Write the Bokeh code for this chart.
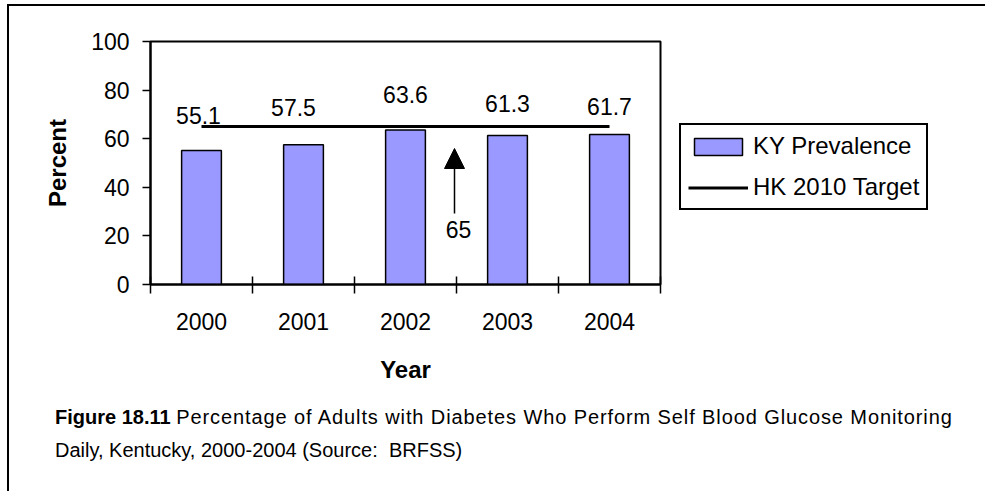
from bokeh.plotting import figure
from bokeh.models import FixedTicker, Label, Arrow, NormalHead, Div, Legend
from bokeh.layouts import column
from bokeh.core.properties import value
from bokeh.embed import file_html
from bokeh.resources import INLINE

# ---- data ----
years = ["2000", "2001", "2002", "2003", "2004"]
ky_prevalence = [55.1, 57.5, 63.6, 61.3, 61.7]
hk_target = 65
y_ticks = [0, 20, 40, 60, 80, 100]
series_names = ["KY Prevalence", "HK 2010 Target"]
caption_bold = "Figure 18.11"
caption_line1 = "Percentage of Adults with Diabetes Who Perform Self Blood Glucose Monitoring"
caption_line2 = "Daily, Kentucky, 2000-2004 (Source:&nbsp; BRFSS)"

# ---- style / layout ----
FONT = "Liberation Sans"
MARGIN_TOP, MARGIN_LEFT, BORDER = 4, 7, 2
ABS_X0, ABS_Y0 = MARGIN_LEFT + BORDER, MARGIN_TOP + BORDER   # canvas origin on page
FRAME_L, FRAME_T, FRAME_W, FRAME_H = 150 - ABS_X0, 41 - ABS_Y0, 510, 243
FIG_H = 396 - ABS_Y0
TOTAL_W = 985 - ABS_X0
label_dx = [-3, -10, 0, 0, 0]
label_dy = [-35, -37, -35, -32, -28]

n = len(years)
centers = [i + 0.5 for i in range(n)]
bounds = list(range(n + 1))

def dx(ax):
    return (ax - ABS_X0 - FRAME_L) / FRAME_W * n
def dy(ay):
    return (FRAME_T + FRAME_H - (ay - ABS_Y0)) / FRAME_H * 100

p = figure(frame_width=FRAME_W, frame_height=FRAME_H, x_range=(0, n), y_range=(0, 100),
           output_backend="svg", toolbar_location=None,
           min_border_left=FRAME_L, min_border_top=FRAME_T,
           min_border_right=0,
           min_border_bottom=FIG_H - FRAME_T - FRAME_H,
           background_fill_color="white", border_fill_color="white")

p.xgrid.visible = False
p.ygrid.visible = False
p.outline_line_color = "black"
p.outline_line_width = 2

bars = p.vbar(x=centers, top=ky_prevalence, width=0.39, fill_color="#9999FF",
              line_color="black", line_width=1.5)
target = p.line(x=[centers[0], centers[-1]], y=[hk_target, hk_target],
                line_color="black", line_width=3)

p.text(x=centers, y=ky_prevalence, text=[f"{v}" for v in ky_prevalence],
       x_offset=label_dx, y_offset=label_dy, text_align="center",
       text_baseline="middle", text_font=value(FONT), text_font_size="23px",
       text_color="black")

# arrow pointing to target
p.add_layout(Arrow(end=NormalHead(size=20, fill_color="black", line_color="black"),
                   x_start=dx(454), y_start=dy(213), x_end=dx(454), y_end=dy(148),
                   line_color="black", line_width=1.5))
p.add_layout(Label(x=dx(458), y=dy(229), text=f"{hk_target}", text_align="center",
                   text_baseline="middle", text_font=FONT, text_font_size="23px",
                   text_color="black"))

# axes
xa = p.xaxis[0]
xa.ticker = FixedTicker(ticks=centers, minor_ticks=bounds)
xa.major_label_overrides = {c: y for c, y in zip(centers, years)}
xa.major_tick_in = 0
xa.major_tick_out = 0
xa.minor_tick_in = 8
xa.minor_tick_out = 9
xa.minor_tick_line_color = "black"
xa.minor_tick_line_width = 1.5
xa.axis_line_width = 2
xa.major_label_standoff = 19
xa.major_label_text_font = FONT
xa.major_label_text_font_size = "23px"
xa.major_label_text_color = "black"
xa.axis_label = "Year"
xa.axis_label_text_font = FONT
xa.axis_label_text_font_style = "bold"
xa.axis_label_text_font_size = "24px"
xa.axis_label_text_color = "black"
xa.axis_label_standoff = 23

ya = p.yaxis[0]
ya.ticker = FixedTicker(ticks=y_ticks, minor_ticks=[])
ya.major_tick_in = 0
ya.major_tick_out = 8
ya.major_tick_line_width = 1.5
ya.axis_line_width = 2
ya.major_label_standoff = 13
ya.major_label_text_font = FONT
ya.major_label_text_font_size = "23px"
ya.major_label_text_color = "black"
ya.axis_label = "Percent"
ya.axis_label_text_font = FONT
ya.axis_label_text_font_style = "bold"
ya.axis_label_text_font_size = "24px"
ya.axis_label_text_color = "black"
ya.axis_label_standoff = 17

# legend in the right-hand panel
LEG_MARGIN = 679 - 660
lg = Legend(items=[(series_names[0], [bars]), (series_names[1], [target])],
            location=(LEG_MARGIN, 284 - 210), margin=LEG_MARGIN)
lg.border_line_color = "black"
lg.border_line_alpha = 1.0
lg.border_line_width = 2
lg.background_fill_color = "white"
lg.background_fill_alpha = 1.0
lg.label_text_font = FONT
lg.label_text_font_size = "24px"
lg.label_text_color = "black"
lg.glyph_width = 60
lg.glyph_height = 21
lg.label_standoff = 5
lg.padding = 7
lg.spacing = 13
p.add_layout(lg, "right")

# caption (first line is stretched across the full width in the reference)
caption = Div(
    text=(f"<b>{caption_bold}</b> "
          f"<span style='letter-spacing:0.9px'>{caption_line1}</span>"
          f"<br>{caption_line2}"),
    width=TOTAL_W, height=491 - 396 - 2,
    styles={"font-family": FONT, "font-size": "20px", "line-height": "33px",
            "color": "black", "padding-left": f"{50 - ABS_X0}px",
            "box-sizing": "border-box", "white-space": "nowrap"})

layout = column(p, caption, spacing=0, margin=(MARGIN_TOP, 0, 0, MARGIN_LEFT),
                styles={"border-top": f"{BORDER}px solid black",
                        "border-left": f"{BORDER}px solid black"})

open("out.html", "w").write(file_html(layout, INLINE))
